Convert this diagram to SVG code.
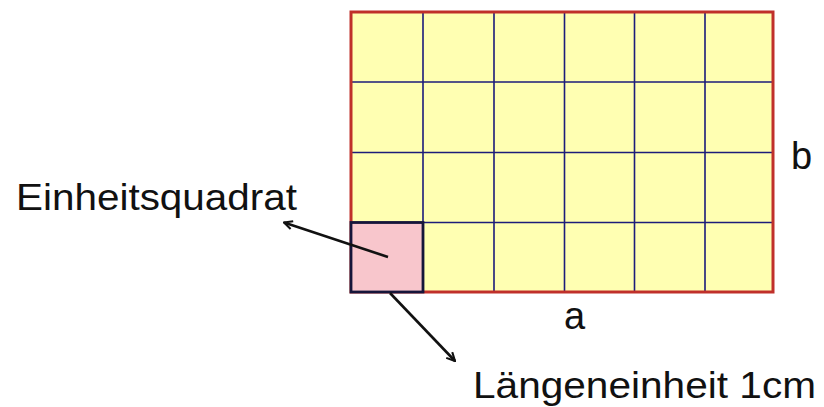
<svg xmlns="http://www.w3.org/2000/svg" width="824" height="407" viewBox="0 0 824 407">
<defs>
<marker id="ah" viewBox="0 0 10 10" refX="9" refY="5" markerWidth="4" markerHeight="4" orient="auto" markerUnits="strokeWidth">
<path d="M1,1 L9,5 L1,9" fill="none" stroke="#111" stroke-width="2"/>
</marker>
<style>
.grid{stroke:#1c1c7a;stroke-width:1.6;fill:none}
.lbl{font-family:"Liberation Sans",Arial,sans-serif;fill:#111}
.conn{stroke:#111;stroke-width:2.6;fill:none;marker-end:url(#ah)}
</style>
</defs>
<rect width="824" height="407" fill="#fff"/>
<g id="rect">
<rect x="351" y="12" width="422" height="280" fill="#ffffb2"/>
<path class="grid" d="M423,12V292M494,12V292M564.5,12V292M634.5,12V292M705,12V292M351,82H773M351,152.5H773M351,222.5H773"/>
<rect x="351" y="12" width="422" height="280" fill="none" stroke="#c0302a" stroke-width="3"/>
</g>
<g id="unit">
<rect x="351" y="222.5" width="72" height="69.5" fill="#f8c6cc" stroke="#15153a" stroke-width="2.8"/>
</g>
<g id="connectors">
<line class="conn" x1="388" y1="257" x2="284" y2="222.5"/>
<line class="conn" x1="390" y1="293" x2="455" y2="361"/>
</g>
<g id="labels">
<text class="lbl" x="16" y="210" font-size="37" textLength="281" lengthAdjust="spacingAndGlyphs">Einheitsquadrat</text>
<text class="lbl" x="473" y="398" font-size="37" textLength="343" lengthAdjust="spacingAndGlyphs">Längeneinheit 1cm</text>
<text class="lbl" x="564" y="329" font-size="38">a</text>
<text class="lbl" x="791" y="169" font-size="38">b</text>
</g>
</svg>
